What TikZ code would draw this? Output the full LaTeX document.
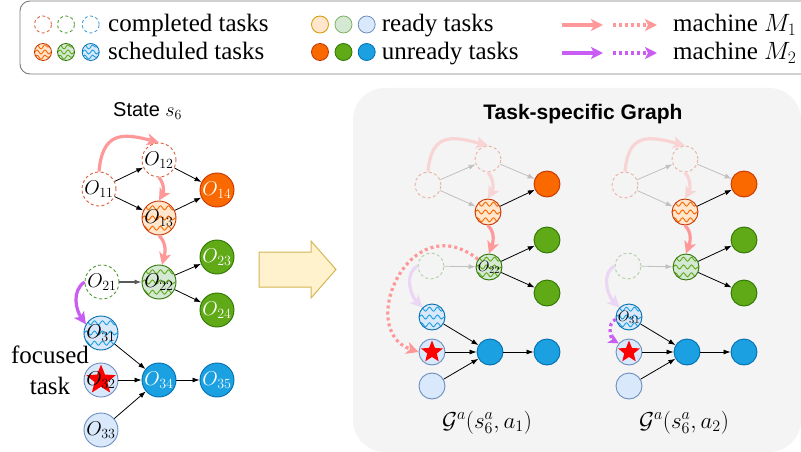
\documentclass[tikz,border=0pt]{standalone}
\usepackage{fix-cm}
\usepackage[no-math]{fontspec}
\setmainfont{Liberation Serif}
\newfontfamily\sansf{Liberation Sans}
\usetikzlibrary{arrows.meta,shapes.geometric,decorations.pathmorphing,calc}

\definecolor{uOF}{HTML}{FA6800}\definecolor{uOD}{HTML}{C73500}
\definecolor{uGF}{HTML}{60A917}\definecolor{uGD}{HTML}{2D7600}
\definecolor{uBF}{HTML}{1BA1E2}\definecolor{uBD}{HTML}{006EAF}
\definecolor{rOF}{HTML}{FFE6CC}\definecolor{rOD}{HTML}{D79B00}
\definecolor{rGF}{HTML}{D5E8D4}\definecolor{rGD}{HTML}{82B366}
\definecolor{rBF}{HTML}{DAE8FC}\definecolor{rBD}{HTML}{6C8EBF}
\definecolor{dO}{HTML}{D9603B}\definecolor{dG}{HTML}{4F9A2E}\definecolor{dB}{HTML}{2F96D8}
\definecolor{pinkc}{HTML}{FF9999}\definecolor{purpc}{HTML}{C95CF2}
\definecolor{panel}{HTML}{F4F4F4}
\definecolor{yelF}{HTML}{FFF2CC}\definecolor{yelD}{HTML}{D6B656}
\definecolor{legD}{HTML}{7A7A7A}

\newcommand\lab[1]{\makebox[0pt]{$#1$}}

\tikzset{
  tnode/.style={circle, inner sep=0pt, minimum size=34pt, line width=0.9pt, font=\fontsize{20}{20}\selectfont},
  snode/.style={circle, inner sep=0pt, minimum size=26pt, line width=0.9pt, font=\fontsize{15}{15}\selectfont},
  lnode/.style={circle, inner sep=0pt, minimum size=17pt, line width=0.8pt},
  dashd/.style={dash pattern=on 3pt off 2.5pt},
  doneO/.style={draw=dO, dashd},
  doneG/.style={draw=dG, dashd},
  doneB/.style={draw=dB, dashd},
  fdoneO/.style={draw=dO!45!panel, dashd},
  fdoneG/.style={draw=dG!40!panel, dashd},
  waves/.style={path picture={\foreach \k in {0.2,0.5,0.8}{\draw[draw=#1, line width=0.9pt, decorate, decoration={snake, amplitude=2pt, segment length=8pt}] ($(path picture bounding box.south west)!\k!(path picture bounding box.north west)$) -- ($(path picture bounding box.south east)!\k!(path picture bounding box.north east)$);}}},
  schO/.style={fill=rOF, draw=uOD, waves=uOF},
  schG/.style={fill=rGF, draw=uGD, waves=uGF},
  schB/.style={fill=rBF, draw=uBD, waves=uBF},
  rdO/.style={fill=rOF, draw=rOD},
  rdG/.style={fill=rGF, draw=rGD},
  rdB/.style={fill=rBF, draw=rBD},
  unO/.style={fill=uOF, draw=uOD, text=white},
  unG/.style={fill=uGF, draw=uGD, text=white},
  unB/.style={fill=uBF, draw=uBD, text=white},
  starred/.style={path picture={\node[star, star points=5, star point ratio=2.3, fill=red, inner sep=0pt, minimum size=#1] at (path picture bounding box.center) {};}},
  bedge/.style={draw=black, line width=0.8pt, -{Latex[length=7pt,width=5pt]}},
  gedge/.style={draw=gray!45!panel, line width=0.8pt, -{Latex[length=7pt,width=5pt]}},
  parr/.style={draw=pinkc, line width=3.2pt, -{Stealth[length=12pt,width=12pt,inset=3pt]}},
  fparr/.style={draw=pinkc!35!panel, line width=3.2pt, -{Stealth[length=12pt,width=12pt,inset=3pt]}},
  uarr/.style={draw=purpc, line width=3.2pt, -{Stealth[length=12pt,width=12pt,inset=3pt]}},
  fuarr/.style={draw=purpc!20!panel, line width=3.2pt, -{Stealth[length=12pt,width=12pt,inset=3pt]}},
  dotd/.style={dash pattern=on 3pt off 3pt},
  legtext/.style={anchor=base west, inner sep=0pt, font=\fontsize{25}{28}\selectfont},
}

\newcommand\drawTaskGraph[4]{%
\begin{scope}[xshift=#2pt]
 \node[snode,fdoneO] (#1-11) at (428,-185) {};
 \node[snode,fdoneO] (#1-12) at (488,-159) {};
 \node[snode,schO] (#1-13) at (488,-212) {};
 \node[snode,unO] (#1-14) at (547,-184) {};
 \node[snode,fdoneG] (#1-21) at (431,-266) {};
 \node[snode,schG] (#1-22) at (489,-267) {#3};
 \node[snode,unG] (#1-23) at (547,-240) {};
 \node[snode,unG] (#1-24) at (547,-293) {};
 \node[snode,schB] (#1-31) at (432,-317) {#4};
 \node[snode,rdB,starred=23pt] (#1-32) at (432,-352) {};
 \node[snode,rdB] (#1-33) at (432,-386) {};
 \node[snode,unB] (#1-34) at (490,-352) {};
 \node[snode,unB] (#1-35) at (547,-352) {};
 \draw[gedge] (#1-11) -- (#1-12);
 \draw[gedge] (#1-11) -- (#1-13);
 \draw[gedge] (#1-12) -- (#1-14);
 \draw[gedge] (#1-21) -- (#1-22);
 \draw[fparr] (#1-11.north) to[out=85,in=165,looseness=1.5] (#1-12.north);
 \draw[fparr] (#1-12.south) to[out=-50,in=60] (#1-13.north);
 \draw[fuarr] (#1-21.west) to[out=210,in=135] (#1-31.135);
 \draw[parr] (#1-13.south) to[out=-45,in=70] (#1-22.north);
 \draw[bedge] (#1-13) -- (#1-14);
 \draw[bedge] (#1-22) -- (#1-23);
 \draw[bedge] (#1-22) -- (#1-24);
 \draw[bedge] (#1-31) -- (#1-34);
 \draw[bedge] (#1-32) -- (#1-34);
 \draw[bedge] (#1-33) -- (#1-34);
 \draw[bedge] (#1-34) -- (#1-35);
\end{scope}}

\begin{document}
\begin{tikzpicture}[x=1pt,y=1pt]
\useasboundingbox (0,0) rectangle (801,-452);
\clip (0,0) rectangle (801,-452);
\fill[white] (0,0) rectangle (801,-452);

% legend
\draw[draw=legD, line width=0.9pt, rounded corners=10pt] (20,-1) rectangle (840,-74);
\node[lnode,doneO] (lc1) at (43,-24.5) {};
\node[lnode,doneG] (lc2) at (66,-24.5) {};
\node[lnode,doneB] (lc3) at (90.7,-24.5) {};
\node[legtext] (lt1) at (108,-32) {completed tasks};
\node[lnode,schO] (ls1) at (43,-52) {};
\node[lnode,schG] (ls2) at (66,-52) {};
\node[lnode,schB] (ls3) at (90.7,-52) {};
\node[legtext] (lt2) at (108,-60) {scheduled tasks};
\node[lnode,rdO] (lr1) at (320,-24.5) {};
\node[lnode,rdG] (lr2) at (343.5,-24.5) {};
\node[lnode,rdB] (lr3) at (366.7,-24.5) {};
\node[legtext] (lt3) at (381.7,-32) {ready tasks};
\node[lnode,unO] (lu1) at (320,-52) {};
\node[lnode,unG] (lu2) at (343.5,-52) {};
\node[lnode,unB] (lu3) at (366.7,-52) {};
\node[legtext] (lt4) at (381.7,-60) {unready tasks};
\coordinate (m1a) at (562,-25); \coordinate (m1b) at (603,-25);
\coordinate (m1c) at (613,-25); \coordinate (m1d) at (657,-25);
\coordinate (m2a) at (562,-53); \coordinate (m2b) at (603,-53);
\coordinate (m2c) at (613,-53); \coordinate (m2d) at (657,-53);
\draw[parr] (m1a) -- (m1b);
\draw[parr,dotd] (m1c) -- (m1d);
\draw[uarr] (m2a) -- (m2b);
\draw[uarr,dotd] (m2c) -- (m2d);
\node[legtext] (lt5) at (673,-32) {machine $M_1$};
\node[legtext] (lt6) at (673,-60) {machine $M_2$};

% left state graph
\node[anchor=base west, inner sep=0pt, font=\sansf\fontsize{20}{20}\selectfont] (st) at (113,-117) {State $s_6$};
\node[tnode,doneO] (a11) at (99,-189) {\lab{O_{11}}};
\node[tnode,doneO] (a12) at (159,-160) {\lab{O_{12}}};
\node[tnode,schO] (a13) at (159,-218) {\lab{O_{13}}};
\node[tnode,unO] (a14) at (217,-190) {\lab{O_{14}}};
\node[tnode,doneG] (a21) at (102,-282) {\lab{O_{21}}};
\node[tnode,schG] (a22) at (159,-282) {\lab{O_{22}}};
\node[tnode,unG] (a23) at (217,-257) {\lab{O_{23}}};
\node[tnode,unG] (a24) at (217,-310) {\lab{O_{24}}};
\node[tnode,schB] (a31) at (101,-333) {\lab{O_{31}}};
\node[tnode,rdB,starred=31pt] (a32) at (101,-380) {\lab{O_{32}}};
\node[tnode,rdB] (a33) at (101,-430) {\lab{O_{33}}};
\node[tnode,unB] (a34) at (159,-380) {\lab{O_{34}}};
\node[tnode,unB] (a35) at (217,-380) {\lab{O_{35}}};
\draw[bedge] (a11) -- (a12);
\draw[bedge] (a11) -- (a13);
\draw[bedge] (a12) -- (a14);
\draw[bedge] (a13) -- (a14);
\draw[bedge, draw=black!65, line width=1.1pt] (a21) -- (a22);
\draw[bedge] (a22) -- (a23);
\draw[bedge] (a22) -- (a24);
\draw[bedge] (a31) -- (a34);
\draw[bedge] (a32) -- (a34);
\draw[bedge] (a33) -- (a34);
\draw[bedge] (a34) -- (a35);
\draw[parr] (a11.north) to[out=85,in=165,looseness=1.5] (a12.north);
\draw[parr] (a12.south) to[out=-50,in=60] (a13.north);
\draw[parr] (a13.south) to[out=-45,in=75] (a22.80);
\draw[uarr] (a21.west) to[out=215,in=125] (a31.150);
\node[anchor=base, inner sep=0pt, font=\fontsize{25}{25}\selectfont] (f1) at (50,-363) {focused};
\node[anchor=base, inner sep=0pt, font=\fontsize{25}{25}\selectfont] (f2) at (50,-394) {task};

% block arrow
\draw[fill=yelF, draw=yelD, line width=1pt] (259,-252) -- (311,-252) -- (311,-241) -- (336,-269.5) -- (311,-298) -- (311,-287) -- (259,-287) -- cycle;

% panel
\fill[panel, rounded corners=32pt] (353,-88) rectangle (801,-452);
\node[anchor=base, inner sep=0pt, font=\sansf\bfseries\fontsize{21}{21}\selectfont] (title) at (583,-119) {Task-specific Graph};

\drawTaskGraph{b}{0}{\lab{O_{22}}}{}
\drawTaskGraph{c}{197}{}{\lab{O_{31}}}

\draw[parr,dotd] (b-22.145) .. controls (410,-205) and (355,-330) .. (b-32.west);
\draw[draw=purpc, line width=3.2pt, dotd, -{Stealth[length=10pt,width=10pt,inset=2.5pt]}] (c-31.190) to[out=200,in=150] (c-32.140);

\node[anchor=base, inner sep=0pt, font=\fontsize{23}{23}\selectfont] (g1) at (487,-428) {$\mathcal{G}^a(s_6^a,a_1)$};
\node[anchor=base, inner sep=0pt, font=\fontsize{23}{23}\selectfont] (g2) at (684,-428) {$\mathcal{G}^a(s_6^a,a_2)$};
\end{tikzpicture}
\end{document}
